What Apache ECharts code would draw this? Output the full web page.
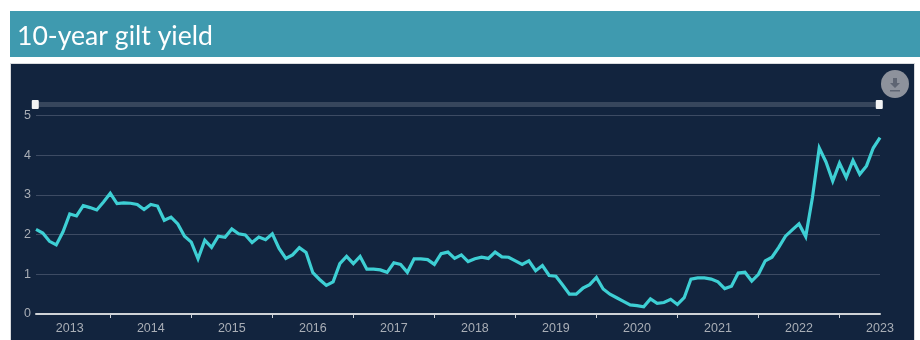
<!DOCTYPE html>
<html>
<head>
<meta charset="utf-8">
<style>html,body{margin:0;padding:0;background:#fff}#c{width:920px;height:340px}</style>
<script src="https://cdn.jsdelivr.net/npm/echarts@6/dist/echarts.min.js"></script>
</head>
<body>
<div id="c"></div>
<script>
// Monthly 10-year gilt yield, %, August 2012 to January 2023
const yields = [
  2.13,2.04,1.83,1.74,2.07,2.52,2.47,2.73,2.68,2.62,2.82,3.04,
  2.78,2.80,2.79,2.76,2.63,2.76,2.72,2.36,2.44,2.27,1.96,1.81,
  1.39,1.86,1.68,1.96,1.93,2.14,2.02,1.99,1.80,1.94,1.87,2.02,
  1.65,1.40,1.49,1.67,1.55,1.04,0.87,0.72,0.81,1.27,1.45,1.27,
  1.45,1.13,1.13,1.11,1.05,1.29,1.25,1.05,1.39,1.39,1.37,1.25,
  1.52,1.56,1.40,1.49,1.32,1.39,1.43,1.40,1.56,1.44,1.43,1.34,
  1.25,1.34,1.09,1.22,0.97,0.95,0.73,0.50,0.50,0.65,0.74,0.92,
  0.63,0.50,0.41,0.32,0.23,0.21,0.18,0.38,0.27,0.29,0.37,0.24,
  0.41,0.88,0.91,0.91,0.88,0.81,0.64,0.70,1.03,1.05,0.83,1.00,
  1.34,1.43,1.68,1.96,2.12,2.27,1.95,2.94,4.18,3.83,3.35,3.80,
  3.44,3.87,3.52,3.73,4.18,4.44
];
const firstYear = 2012, firstMonth = 8;
const months = yields.map((_, i) => {
  const m = firstMonth - 1 + i;
  return (firstYear + Math.floor(m / 12)) + '-' + String(m % 12 + 1).padStart(2, '0');
});
const yTicks = {min: 0, max: 5, interval: 1};
const titleText = '10-year gilt yield';

const chart = echarts.init(document.getElementById('c'), null, {renderer: 'canvas'});
chart.setOption({
  animation: false,
  backgroundColor: '#ffffff',
  title: {
    text: titleText, left: 17, top: 20, padding: 0,
    textStyle: {color: '#ffffff', fontFamily: 'Lato', fontSize: 26.6, fontWeight: 400, lineHeight: 32}
  },
  graphic: [
    {type: 'rect', z: -2, silent: true, shape: {x: 10, y: 11, width: 910, height: 46}, style: {fill: '#3f9aaf'}},
    {type: 'rect', z: -2, silent: true, shape: {x: 10, y: 63, width: 905, height: 277}, style: {fill: '#d9dbde'}},
    {type: 'rect', z: -2, silent: true, shape: {x: 11, y: 64, width: 903, height: 276}, style: {fill: '#12243e'}},
    {type: 'circle', z: 10, silent: true, shape: {cx: 895, cy: 84, r: 14}, style: {fill: '#8d929c'}},
    {type: 'polygon', z: 11, silent: true,
      shape: {points: [[893,78],[897,78],[897,83],[900,83],[895,88],[890,83],[893,83]]},
      style: {fill: '#5e6573'}},
    {type: 'rect', z: 11, silent: true, shape: {x: 890, y: 90, width: 10, height: 1.5}, style: {fill: '#5e6573'}}
  ],
  grid: {left: 36, right: 40, top: 115.5, bottom: 26},
  dataZoom: [{
    type: 'slider', xAxisIndex: 0, start: 0, end: 100,
    left: 33.5, right: 40.5, top: 102, height: 5,
    showDetail: false, showDataShadow: false, brushSelect: false, moveHandleSize: 0,
    backgroundColor: '#37465c', borderColor: 'transparent', fillerColor: 'rgba(0,0,0,0)',
    handleIcon: 'path://M-2.5,-4.5H2.5Q3.5,-4.5 3.5,-3.5V3.5Q3.5,4.5 2.5,4.5H-2.5Q-3.5,4.5 -3.5,3.5V-3.5Q-3.5,-4.5 -2.5,-4.5Z',
    handleSize: 9,
    handleStyle: {color: '#f2f3f4', borderColor: '#f2f3f4', borderWidth: 0}
  }],
  xAxis: {
    type: 'category', boundaryGap: false, data: months,
    axisLine: {lineStyle: {color: '#cfd2d6', width: 2}},
    axisTick: {show: true, length: 4, lineStyle: {color: '#cfd2d6', width: 1},
      interval: i => (i - 11) % 12 === 0},
    axisLabel: {color: '#a9aeb6', fontFamily: 'Liberation Sans', fontSize: 12.5, margin: 8,
      interval: i => (i - 5) % 12 === 0,
      formatter: v => v.slice(0, 4)},
    splitLine: {show: false}
  },
  yAxis: {
    type: 'value', min: yTicks.min, max: yTicks.max, interval: yTicks.interval,
    axisLine: {show: false}, axisTick: {show: false},
    axisLabel: {color: '#a9aeb6', fontFamily: 'Liberation Sans', fontSize: 12.5, margin: 5, padding: [4, 0, 0, 0]},
    splitLine: {lineStyle: {color: '#3d4b63', width: 1}}
  },
  series: [{
    type: 'line', data: yields, showSymbol: false, smooth: false,
    lineStyle: {color: '#3ecfd4', width: 3.2, join: 'miter'},
    itemStyle: {color: '#3ecfd4'}
  }]
});
</script>
</body>
</html>
